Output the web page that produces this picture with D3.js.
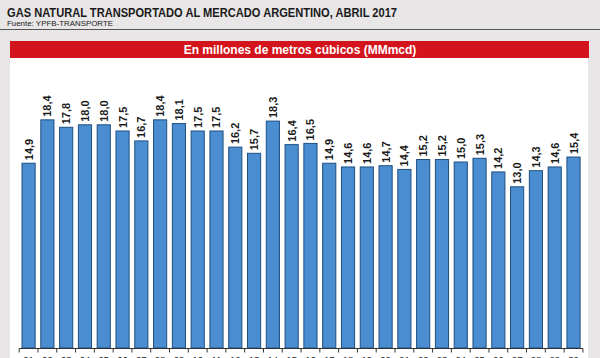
<!DOCTYPE html>
<html><head><meta charset="utf-8">
<script src="https://cdn.jsdelivr.net/npm/d3@7"></script>
<style>html,body{margin:0;padding:0;background:#e8e6e6;}svg{display:block;}</style>
</head><body><svg id="c" width="600" height="358"></svg>
<script>
const days = ["01","02","03","04","05","06","07","08","09","10","11","12","13","14","15","16","17","18","19","20","21","22","23","24","25","26","27","28","29","30"];
const values = [14.9,18.4,17.8,18.0,18.0,17.5,16.7,18.4,18.1,17.5,17.5,16.2,15.7,18.3,16.4,16.5,14.9,14.6,14.6,14.7,14.4,15.2,15.2,15.0,15.3,14.2,13.0,14.3,14.6,15.4];
const title = "GAS NATURAL TRANSPORTADO AL MERCADO ARGENTINO, ABRIL 2017";
const source = "Fuente: YPFB-TRANSPORTE";
const subtitle = "En millones de metros cúbicos (MMmcd)";

const svg = d3.select("#c");
const W = 600, H = 358;
svg.append("rect").attr("width", W).attr("height", H).attr("fill", "#e8e6e6");

svg.append("text").attr("x", 7).attr("y", 17).text(title)
  .attr("font-family", "'Liberation Sans Narrow','Arial Narrow',Arial,sans-serif")
  .attr("font-weight", "bold").attr("font-size", 12.5).attr("fill", "#1a1a1a")
  .attr("textLength", 390).attr("lengthAdjust", "spacingAndGlyphs");
svg.append("text").attr("x", 7).attr("y", 26).text(source)
  .attr("font-family", "'Liberation Sans Narrow','Arial Narrow',Arial,sans-serif")
  .attr("font-size", 8).attr("fill", "#1a1a1a")
  .attr("textLength", 106).attr("lengthAdjust", "spacingAndGlyphs");
svg.append("line").attr("x1", 0).attr("x2", W).attr("y1", 29.5).attr("y2", 29.5)
  .attr("stroke", "#555").attr("stroke-width", 1.2);

// white panel
svg.append("rect").attr("x", 10).attr("y", 41).attr("width", 578).attr("height", H - 41).attr("fill", "#ffffff");
// red header
svg.append("rect").attr("x", 10).attr("y", 41).attr("width", 579).attr("height", 17).attr("fill", "#d3141c");
svg.append("text").attr("x", 300).attr("y", 54).attr("text-anchor", "middle").text(subtitle)
  .attr("font-family", "'Liberation Sans',Arial,sans-serif").attr("font-weight", "bold")
  .attr("font-size", 12).attr("fill", "#ffffff");

const x = d3.scaleBand().domain(days).range([19.2, 582.9]).paddingInner(0.3).paddingOuter(0.15);
const y = d3.scaleLinear().domain([0, 10]).range([348, 224]);

const g = svg.append("g");
g.selectAll("rect.bar").data(values).join("rect").attr("class", "bar")
  .attr("x", (d, i) => x(days[i]))
  .attr("y", d => y(d))
  .attr("width", x.bandwidth())
  .attr("height", d => y(0) - y(d))
  .attr("fill", "#4a8dd0").attr("stroke", "#1f4f80").attr("stroke-width", 1);

g.selectAll("text.val").data(values).join("text").attr("class", "val")
  .attr("transform", (d, i) => `translate(${x(days[i]) + x.bandwidth() / 2 + 4},${y(d) - 3}) rotate(-90)`)
  .attr("font-family", "'Liberation Sans',Arial,sans-serif").attr("font-weight", "bold")
  .attr("font-size", 11).attr("fill", "#1a1a1a")
  .text(d => d.toFixed(1).replace(".", ","));

// axis
const axisG = svg.append("g").attr("transform", "translate(0,348.5)");
axisG.append("line").attr("x1", x.range()[0]).attr("x2", x.range()[1]).attr("stroke", "#333").attr("stroke-width", 1);
const edges = days.map(d => x(d) - x.step() * x.paddingInner() / 2).concat([x(days[days.length - 1]) + x.bandwidth() + x.step() * x.paddingInner() / 2]);
axisG.selectAll("line.tk").data(edges).join("line").attr("class", "tk")
  .attr("x1", d => d).attr("x2", d => d).attr("y1", 0).attr("y2", 4)
  .attr("stroke", "#333").attr("stroke-width", 1);
axisG.selectAll("text.lab").data(days).join("text").attr("class", "lab")
  .attr("x", d => x(d) + x.bandwidth() / 2).attr("y", 14).attr("text-anchor", "middle")
  .attr("font-family", "'Liberation Sans',Arial,sans-serif").attr("font-size", 9.5).attr("fill", "#1a1a1a")
  .text(d => d);
</script></body></html>
